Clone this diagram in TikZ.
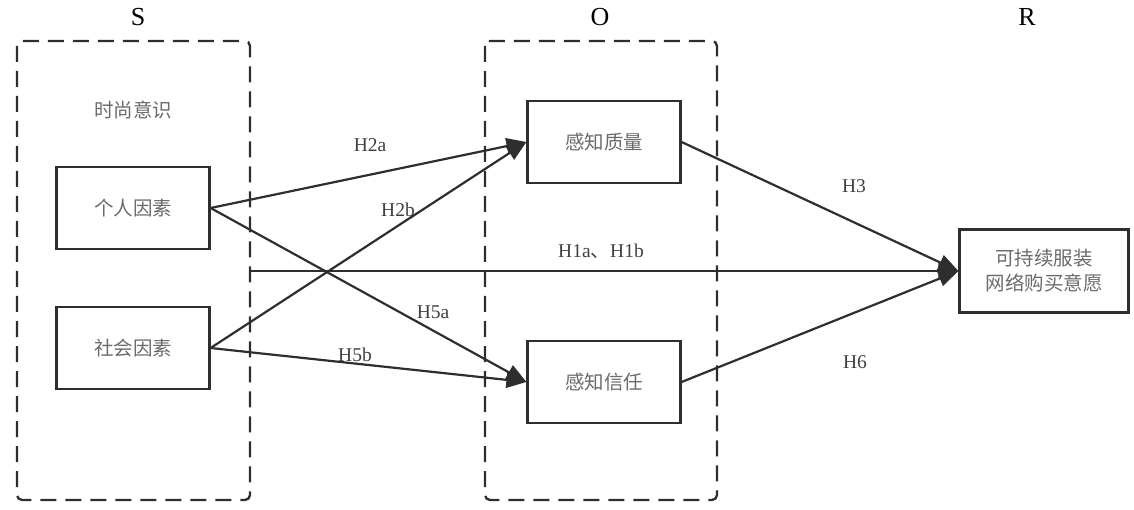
\documentclass[tikz,border=0pt]{standalone}
\usepackage{fontspec}
\setmainfont{Liberation Serif}
\newfontfamily\cjk{Noto Sans CJK SC}
\usetikzlibrary{arrows.meta}
\definecolor{ln}{HTML}{2E2E2E}
\definecolor{cjkgray}{HTML}{6A6A6A}
\definecolor{lblgray}{HTML}{404040}
\begin{document}
\begin{tikzpicture}[x=1pt,y=-1pt,
  grp/.style={draw=ln,line width=2.3pt,dash pattern=on 16pt off 9pt,rounded corners=5pt},
  box/.style={draw=ln,line width=2.2pt,minimum width=153pt,minimum height=82pt,inner sep=0pt,
    font=\cjk\fontsize{19.5}{25}\selectfont,text=cjkgray,align=center},
  conn/.style={draw=ln,line width=2.2pt,-{Triangle[length=20pt,width=16pt]}},
  hyp/.style={font=\fontsize{19.5}{22}\selectfont,text=lblgray,inner sep=0pt},
  head/.style={font=\fontsize{26}{28}\selectfont,text=black,inner sep=0pt},
  grpname/.style={font=\cjk\fontsize{19.5}{22}\selectfont,text=cjkgray,inner sep=0pt}]
\useasboundingbox (0,0) rectangle (1134,510);
% group frames
\draw[grp] (17,41) rectangle (250,500);
\draw[grp] (485,41) rectangle (717,500);
\node[head] (S) at (138,17) {S};
\node[head] (O) at (600,17) {O};
\node[head] (R) at (1027,17) {R};
\node[grpname] (fa) at (133,110) {时尚意识};
% boxes
\node[box] (gr) at (133,208) {个人因素};
\node[box] (sh) at (133,348) {社会因素};
\node[box] (zl) at (604,142) {感知质量};
\node[box] (xr) at (604,382) {感知信任};
\node[box,minimum width=169pt,minimum height=83pt] (yy) at (1044,271) {可持续服装\\网络购买意愿};
\coordinate (hstart) at (250,271);
% connectors
\draw[conn] (gr.east) -- (zl.west);
\draw[conn] (gr.east) -- (xr.west);
\draw[conn] (sh.east) -- (zl.west);
\draw[conn] (sh.east) -- (xr.west);
\draw[conn] (hstart) -- (yy.west);
\draw[conn] (zl.east) -- (yy.west);
\draw[conn] (xr.east) -- (yy.west);
% labels
\node[hyp] (l2a) at (370,145) {H2a};
\node[hyp] (l2b) at (398,210) {H2b};
\node[hyp] (l1) at (601,251) {H1a{\cjk 、}H1b};
\node[hyp] (l5a) at (433,312) {H5a};
\node[hyp] (l5b) at (355,355) {H5b};
\node[hyp] (l3) at (854,186) {H3};
\node[hyp] (l6) at (855,362) {H6};
\end{tikzpicture}
\end{document}
